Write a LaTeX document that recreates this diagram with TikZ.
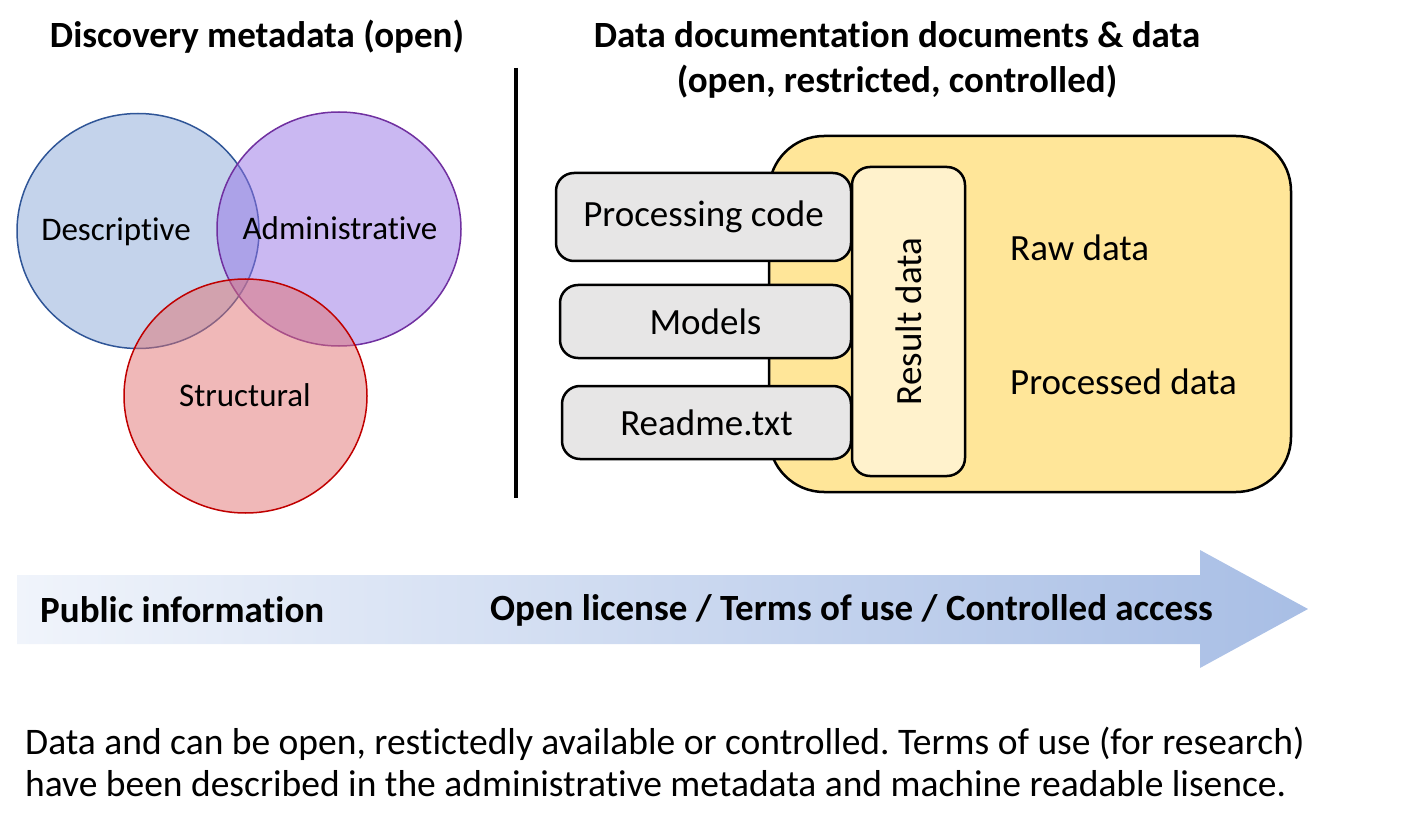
\documentclass[tikz,border=0pt]{standalone}
\usepackage{fontspec}
\setmainfont{Carlito}[RawFeature={-liga;-clig;-dlig;-calt;-rlig}]
\usetikzlibrary{shapes.geometric}
\definecolor{descfill}{RGB}{137,167,215}
\definecolor{descline}{RGB}{47,85,151}
\definecolor{adminfill}{RGB}{149,113,229}
\definecolor{adminline}{RGB}{112,48,160}
\definecolor{structfill}{RGB}{225,113,113}
\definecolor{structline}{RGB}{192,0,0}
\definecolor{datafill}{RGB}{255,230,153}
\definecolor{resultfill}{RGB}{255,242,204}
\definecolor{docfill}{RGB}{231,230,230}
\definecolor{arrowleft}{RGB}{240,244,251}
\definecolor{arrowright}{RGB}{168,190,229}
\frenchspacing

\begin{document}
\begin{tikzpicture}[x=1pt, y=-1pt,
  venn/.style={ellipse, draw, line width=1.5pt, fill opacity=0.5, minimum width=242pt, minimum height=235pt},
  docbox/.style={draw, line width=2.5pt, rounded corners=18pt, fill=docfill, font=\fontsize{37}{42}\selectfont},
  txt/.style={inner sep=0pt, font=\fontsize{37}{42}\selectfont},
  venntxt/.style={inner sep=0pt, font=\fontsize{33}{40}\selectfont},
  head/.style={inner sep=0pt, align=center, font=\fontsize{37}{45}\selectfont\bfseries}]
  % 1pt = 1px of the reference
  \useasboundingbox (0,0) rectangle (1401,829);

  % Headings
  \node[head] (disc) at (257,37) {Discovery metadata (open)};
  \node[head] (docs) at (897,60) {Data documentation documents \& data\\(open, restricted, controlled)};

  % Venn diagram of metadata
  \node[venn, fill=descfill, draw=descline] (desc) at (138,231) {};
  \node[venn, fill=adminfill, draw=adminline, minimum width=244pt, minimum height=234pt] (admin) at (339,229) {};
  \node[venn, fill=structfill, draw=structline, minimum width=243pt, minimum height=234pt] (struct) at (245.5,396) {};
  \node[venntxt] (desclab) at (116,232) {Descriptive};
  \node[venntxt] (adminlab) at (340,228) {Administrative};
  \node[venntxt] (structlab) at (245,395) {Structural};

  % Separator
  \draw[line width=4pt] (516,68) -- (516,498);

  % Data container
  \node[draw, line width=2.5pt, rounded corners=55pt, fill=datafill, minimum width=522pt, minimum height=356pt] (data) at (1030,314) {};
  \node[txt, anchor=west] (raw) at (1010,248) {Raw data};
  \node[txt, anchor=west] (proc) at (1010,382) {Processed data};

  % Documentation boxes
  \node[docbox, minimum width=295pt, minimum height=88pt] (code) at (703.5,217) {Processing code};
  \node[docbox, minimum width=291pt, minimum height=73pt] (models) at (705.5,321.5) {Models};
  \node[docbox, minimum width=289pt, minimum height=73pt] (readme) at (706.5,422.5) {Readme.txt};
  \node[docbox, fill=resultfill, rotate=90, minimum width=309pt, minimum height=113pt] (result) at (908.5,321.5) {Result data};

  % Access arrow
  \shade[left color=arrowleft, right color=arrowright] (17,575) -- (1200,575) -- (1200,550) -- (1308,609) -- (1200,668) -- (1200,644) -- (17,644) -- cycle;
  \node[txt, font=\fontsize{37}{42}\selectfont\bfseries, anchor=west] (public) at (40,610) {Public information};
  \node[txt, font=\fontsize{37}{42}\selectfont\bfseries, anchor=west] (access) at (490,610) {Open license / Terms of use / Controlled access};

  % Caption
  \node[txt, anchor=west, align=left, font=\fontsize{37.5}{42}\selectfont] (caption) at (25,762) {Data and can be open, restictedly available or controlled. Terms of use (for research)\\have been described in the administrative metadata and machine readable lisence.};
\end{tikzpicture}
\end{document}
